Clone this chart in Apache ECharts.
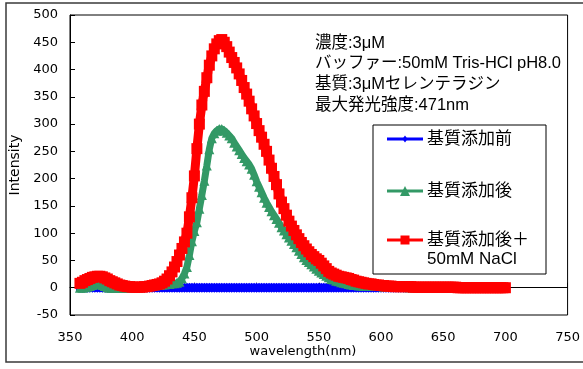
<!DOCTYPE html>
<html>
<head>
<meta charset="utf-8">
<script src="https://cdn.jsdelivr.net/npm/echarts@6/dist/echarts.min.js"></script>
<style>html,body{margin:0;padding:0;background:#fff;}#c{width:583px;height:369px;}</style>
</head>
<body>
<div id="c"></div>
<script>
var wavelengths = [
358,360,362,364,366,368,370,372,374,376,
378,380,382,384,386,388,390,392,394,396,
398,400,402,404,406,408,410,412,414,416,
418,420,422,424,426,428,430,432,434,436,
438,440,442,444,446,448,450,452,454,456,
458,460,462,464,466,468,470,472,474,476,
478,480,482,484,486,488,490,492,494,496,
498,500,502,504,506,508,510,512,514,516,
518,520,522,524,526,528,530,532,534,536,
538,540,542,544,546,548,550,552,554,556,
558,560,562,564,566,568,570,572,574,576,
578,580,582,584,586,588,590,592,594,596,
598,600,602,604,606,608,610,612,614,616,
618,620,622,624,626,628,630,632,634,636,
638,640,642,644,646,648,650,652,654,656,
658,660,662,664,666,668,670,672,674,676,
678,680,682,684,686,688,690,692,694,696,
698,700];

var before = [
0,0,0,0,0,0,0,0,0,0,
0,0,0,0,0,0,0,0,0,0,
0,0,0,0,0,0,0,0,0,0,
0,0,0,0,0,0,0,0,0,0,
0,0,0,0,0,0,0,0,0,0,
0,0,0,0,0,0,0,0,0,0,
0,0,0,0,0,0,0,0,0,0,
0,0,0,0,0,0,0,0,0,0,
0,0,0,0,0,0,0,0,0,0,
0,0,0,0,0,0,0,0,0,0,
0,0,0,0,0,0,0,0,0,0,
0,0,0,0,0,0,0,0,0,0,
0,0,0,0,0,0,0,0,0,0,
0,0,0,0,0,0,0,0,0,0,
0,0,0,0,0,0,0,0,0,0,
0,0,0,0,0,0,0,0,0,0,
0,0,0,0,0,0,0,0,0,0,
0,0];

var after = [
0,0,1,2,3,5,7,8,7,5,
3,1,0,0,0,0,0,0,0,0,
0,1,2,2,2,2,2,3,3,4,
4,5,5,6,6,7,7,8,8,9,
11,17,26,38,60,85,104,120,145,170,
196,224,254,274,283,288,291,291,288,284,
279,274,266,259,252,245,238,232,226,218,
207,195,185,175,165,156,148,140,133,126,
119,111,105,98,92,86,80,74,68,62,
56,51,47,43,39,35,31,28,25,22,
19,16,15,13,12,10,9,8,7,6,
5,5,4,4,3,3,3,3,3,3,
3,3,2,2,2,2,2,2,2,2,
2,2,1,1,1,1,1,1,1,1,
1,1,1,1,1,1,1,1,1,1,
1,1,1,1,1,1,1,1,1,1,
1,1,1,1,1,1,1,1,1,1,
1,1];

var afterNaCl = [
8,10,13,15,17,19,20,21,21,20,
18,16,13,11,9,7,5,4,3,2,
2,1,1,1,1,1,2,2,3,4,
5,6,7,9,12,16,22,29,38,48,
60,72,84,100,130,165,205,255,300,335,
360,385,408,425,438,447,453,455,450,442,
432,422,413,403,392,380,367,355,342,328,
315,301,288,276,263,250,234,219,204,189,
172,157,145,133,122,113,105,97,90,83,
77,71,66,61,57,53,50,45,40,35,
30,27,25,23,21,20,19,18,17,15,
14,12,11,10,9,8,7,7,6,5,
5,4,4,3,3,3,2,2,2,2,
2,2,2,2,1,1,1,1,1,1,
1,1,1,1,1,1,1,1,1,1,
1,1,0,0,0,0,0,0,0,0,
0,0,0,0,0,0,0,0,0,0,
0,0];

var seriesNames = ['基質添加前', '基質添加後', '基質添加後＋\n50mM NaCl'];
var notes = ['濃度:3μM', 'バッファー:50mM Tris-HCl pH8.0', '基質:3μMセレンテラジン', '最大発光強度:471nm'];
var xTitle = 'wavelength(nm)';
var yTitle = 'Intensity';

function pairs(ys) { return wavelengths.map(function (w, i) { return [w, ys[i]]; }); }

var latin = '"Liberation Sans","Noto Sans CJK JP",sans-serif';
var tickFont = '"DejaVu Sans",sans-serif';

var chart = echarts.init(document.getElementById('c'), null, { renderer: 'canvas' });

var graphics = [
  { type: 'rect', shape: { x: 6, y: 3, width: 600, height: 359 }, style: { fill: 'none', stroke: '#3a3a3a', lineWidth: 1.5 }, z: 0 },
  { type: 'text', x: 303, y: 352, style: { text: xTitle, font: '13px ' + tickFont, fill: '#000', textAlign: 'center', textVerticalAlign: 'middle' } }
];
var noteY = [43, 63, 84, 105];
notes.forEach(function (t, i) {
  graphics.push({ type: 'text', x: 315, y: noteY[i], style: { text: t, font: '16.5px ' + latin, fill: '#000', textAlign: 'left', textVerticalAlign: 'middle' } });
});
// legend
graphics.push({ type: 'rect', shape: { x: 373, y: 125, width: 173, height: 149 }, style: { fill: '#fff', stroke: '#000', lineWidth: 1 }, z: 10 });
var legColors = ['#0000FF', '#339966', '#FF0000'];
var legY = [139, 191, 240];
var legSym = ['diamond', 'triangle', 'rect'];
var legSize = [7, 10, 9];
for (var i = 0; i < 3; i++) {
  graphics.push({ type: 'line', shape: { x1: 387, y1: legY[i], x2: 423, y2: legY[i] }, style: { stroke: legColors[i], lineWidth: 3 }, z: 11 });
  var s = legSize[i];
  var shp;
  if (legSym[i] === 'diamond') {
    shp = { type: 'polygon', shape: { points: [[405, legY[i] - s / 2], [405 + s / 2 - 1, legY[i]], [405, legY[i] + s / 2], [405 - s / 2 + 1, legY[i]]] } };
  } else if (legSym[i] === 'triangle') {
    shp = { type: 'polygon', shape: { points: [[405, legY[i] - s / 2], [405 + s / 2, legY[i] + s / 2], [405 - s / 2, legY[i] + s / 2]] } };
  } else {
    shp = { type: 'rect', shape: { x: 405 - s / 2, y: legY[i] - s / 2, width: s, height: s } };
  }
  shp.style = { fill: legColors[i] };
  shp.z = 12;
  graphics.push(shp);
  var lines = seriesNames[i].split('\n');
  lines.forEach(function (t, j) {
    graphics.push({ type: 'text', x: 427, y: legY[i] + j * 19, style: { text: t, font: '17px ' + latin, fill: '#000', textAlign: 'left', textVerticalAlign: 'middle' }, z: 12 });
  });
}

chart.setOption({
  animation: false,
  backgroundColor: '#fff',
  grid: { left: 67, right: 11, top: 15, bottom: 54, show: true, borderColor: '#000', borderWidth: 1, backgroundColor: 'transparent' },
  xAxis: {
    type: 'value', min: 350, max: 750, interval: 50,
    axisLine: { show: true, lineStyle: { color: '#000', width: 1 } },
    axisTick: { show: true, inside: true, length: 5, lineStyle: { color: '#000' } },
    axisLabel: { color: '#000', fontSize: 13, fontFamily: tickFont, margin: 16 },
    splitLine: { show: false }
  },
  yAxis: {
    type: 'value', min: -50, max: 500, interval: 50,
    name: yTitle, nameLocation: 'middle', nameGap: 48,
    nameTextStyle: { color: '#000', fontSize: 14, fontFamily: tickFont },
    axisLine: { show: true, lineStyle: { color: '#000', width: 1 } },
    axisTick: { show: true, inside: true, length: 5, lineStyle: { color: '#000' } },
    axisLabel: { color: '#000', fontSize: 13, fontFamily: tickFont, margin: 12 },
    splitLine: { show: false }
  },
  series: [
    { name: seriesNames[0], type: 'line', data: pairs(before), symbol: 'diamond', symbolSize: 10, showAllSymbol: true,
      itemStyle: { color: '#0000FF' }, lineStyle: { color: '#0000FF', width: 8, cap: 'square' }, z: 2 },
    { name: seriesNames[1], type: 'line', data: pairs(after), symbol: 'triangle', symbolSize: 10, showAllSymbol: true,
      itemStyle: { color: '#339966' }, lineStyle: { color: '#339966', width: 7 }, z: 3 },
    { name: seriesNames[2], type: 'line', data: pairs(afterNaCl), symbol: 'rect', symbolSize: 11, showAllSymbol: true,
      itemStyle: { color: '#FF0000' }, lineStyle: { color: '#FF0000', width: 9 }, z: 4 }
  ],
  graphic: graphics
});
</script>
</body>
</html>
